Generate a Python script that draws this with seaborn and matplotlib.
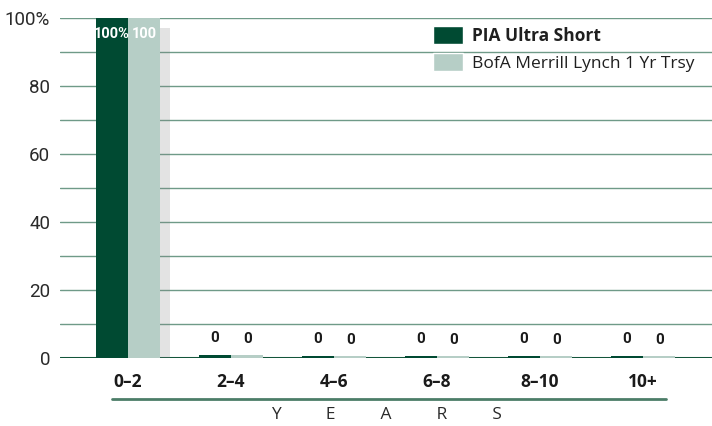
import matplotlib
matplotlib.use("Agg")
import matplotlib.pyplot as plt
import matplotlib.patheffects as pe
from matplotlib.lines import Line2D
from matplotlib.patches import Patch
import pandas as pd
import seaborn as sns

# dados
categorias = ["0–2", "2–4", "4–6", "6–8", "8–10", "10+"]
series = ["PIA Ultra Short", "BofA Merrill Lynch 1 Yr Trsy"]
pia_ultra_short = [100, 1.0, 0.6, 0.7, 0.6, 0.6]
bofa_1yr_trsy = [100, 0.8, 0.5, 0.5, 0.5, 0.5]
rotulos_pia = ["100%", "0", "0", "0", "0", "0"]
rotulos_bofa = ["100", "0", "0", "0", "0", "0"]
yticks = [0, 20, 40, 60, 80, 100]
ytick_labels = ["0", "20", "40", "60", "80", "100%"]

VERDE_ESCURO = "#004a32"
VERDE_CLARO = "#b6cec6"
GRADE = "#6f9a88"

sns.set_style("white")
plt.rcParams["font.family"] = ["Open Sans", "DejaVu Sans"]

df = pd.DataFrame({
    "faixa": categorias * 2,
    "valor": pia_ultra_short + bofa_1yr_trsy,
    "serie": [series[0]] * len(categorias) + [series[1]] * len(categorias),
})

fig = plt.figure(figsize=(7.12, 4.26), dpi=100)
ax = fig.add_axes([60 / 712, 68 / 426, 652 / 712, 340 / 426])

sns.barplot(data=df, x="faixa", y="valor", hue="serie", order=categorias,
            hue_order=series, palette=[VERDE_ESCURO, VERDE_CLARO],
            width=0.63, gap=0, saturation=1, legend=False, ax=ax,
            linewidth=0, edgecolor="none", zorder=4)

sombra = [pe.SimplePatchShadow(offset=(7, -7), shadow_rgbFace="0.5", alpha=0.22), pe.Normal()]
for cont, rotulos in zip(ax.containers, [rotulos_pia, rotulos_bofa]):
    for barra, rot in zip(cont, rotulos):
        barra.set_path_effects(sombra)
        xc = barra.get_x() + barra.get_width() / 2
        h = barra.get_height()
        if h > 50:
            ax.text(xc, h - 2.5, rot, ha="center", va="top", color="white",
                    fontweight="bold", fontsize=10.5, zorder=6, family=["Roboto", "DejaVu Sans"])
        else:
            ax.text(xc, h + 2.8, rot, ha="center", va="bottom", color="#1a1a1a",
                    fontweight="bold", fontsize=11, zorder=6, family=["Roboto", "DejaVu Sans"])

ax.set_xlim(-0.66, 5.67)
ax.set_ylim(0, 100)
ax.set_yticks(yticks)
ax.set_yticklabels(ytick_labels, family=["Roboto", "DejaVu Sans"],
                   fontsize=13.5, color="#2a2a2a")
ax.set_yticks([10, 30, 50, 70, 90], minor=True)
ax.grid(which="both", axis="y", color=GRADE, linewidth=1, zorder=0)
ax.grid(False, axis="x")
ax.axhline(0, color="#13553b", linewidth=2.2, zorder=2)
ax.tick_params(axis="both", which="both", length=0)
ax.tick_params(axis="y", pad=7)
ax.tick_params(axis="x", pad=11)
for lbl in ax.get_xticklabels():
    lbl.set_fontweight("bold")
    lbl.set_fontsize(12.5)
    lbl.set_color("#1a1a1a")
ax.set_xlabel("")
ax.set_ylabel("")
for s in ax.spines.values():
    s.set_visible(False)

handles = [Patch(facecolor=VERDE_ESCURO), Patch(facecolor=VERDE_CLARO)]
leg = ax.legend(handles, series, loc="upper left", bbox_to_anchor=(433 / 712, 1 - 26 / 426),
                bbox_transform=fig.transFigure, frameon=False, fontsize=12.5,
                handlelength=1.75, handleheight=1.25, handletextpad=0.5,
                labelspacing=0.45, borderpad=0, borderaxespad=0)
leg.get_texts()[0].set_fontweight("bold")
for t in leg.get_texts():
    t.set_color("#1f1f1f")

# linha sob as faixas e o rótulo "YEARS"
fig.add_artist(Line2D([112 / 712, 666 / 712], [1 - 399 / 426] * 2, color="#4c7d68", linewidth=2))
fig.text(386 / 712, 1 - 415 / 426, "Y          E          A          R          S",
         ha="center", va="center", fontsize=12.5, color="#2a2a2a")

fig.savefig("out.png", dpi=100)
